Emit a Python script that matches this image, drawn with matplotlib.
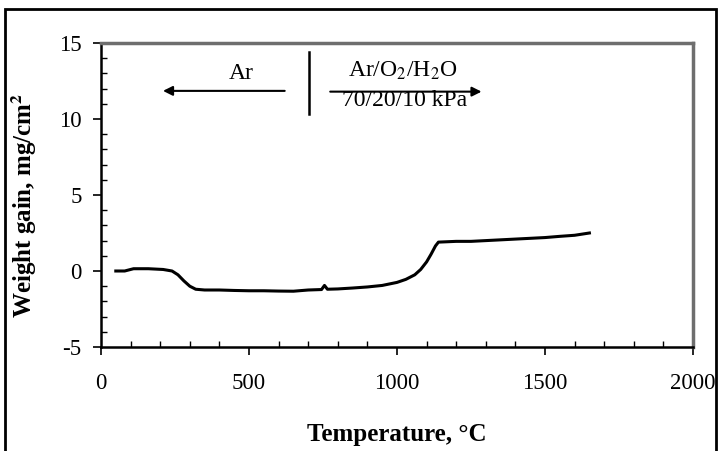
import numpy as np
import matplotlib
matplotlib.use("Agg")
import matplotlib.pyplot as plt
from matplotlib.ticker import MultipleLocator
from matplotlib.patches import Rectangle

plt.rcParams['font.family'] = ['Liberation Serif', 'DejaVu Serif']
plt.rcParams['mathtext.fontset'] = 'stix'
plt.rcParams['axes.unicode_minus'] = False

# ============================
# data
# ============================
temperature = [50, 80, 110, 160, 210, 240, 260, 280, 300, 320, 350, 400, 450, 500, 550,
               600, 650, 700, 745, 755, 765, 800, 850, 900, 950, 1000, 1030, 1060, 1080,
               1100, 1115, 1130, 1140, 1200, 1250, 1300, 1350, 1400, 1450, 1500, 1550,
               1600, 1650]
weight_gain = [0.0, 0.0, 0.15, 0.15, 0.1, 0.0, -0.25, -0.65, -1.0, -1.2, -1.25, -1.25,
               -1.28, -1.3, -1.3, -1.32, -1.33, -1.25, -1.22, -0.95, -1.2, -1.18, -1.12,
               -1.05, -0.95, -0.75, -0.55, -0.25, 0.1, 0.6, 1.1, 1.65, 1.9, 1.95, 1.95,
               2.0, 2.05, 2.1, 2.15, 2.2, 2.28, 2.35, 2.5]

x_ticks = [0, 500, 1000, 1500, 2000]
y_ticks = [-5, 0, 5, 10, 15]

fig = plt.figure(figsize=(7.18, 4.51), dpi=100)
ax = fig.add_axes([101 / 718, 1 - 347 / 451, 592 / 718, 304 / 451])

ax.plot(temperature, weight_gain, color='black', lw=2.2)

ax.set_xlim(0, 2000)
ax.set_ylim(-5, 15)
ax.set_xticks(x_ticks)
ax.set_yticks(y_ticks)
ax.xaxis.set_minor_locator(MultipleLocator(100))
ax.yaxis.set_minor_locator(MultipleLocator(1))
ax.tick_params(which='major', direction='out', length=6, width=1.2, labelsize=16.5)
ax.tick_params(axis='x', which='major', pad=13)
ax.tick_params(axis='y', which='major', pad=8)
ax.tick_params(which='minor', direction='in', length=4, width=1.0)

for side in ['left', 'bottom']:
    ax.spines[side].set_linewidth(1.8)
    ax.spines[side].set_color('black')
for side in ['top', 'right']:
    ax.spines[side].set_linewidth(2.5)
    ax.spines[side].set_color('#6e6e6e')

ax.set_xlabel('Temperature, °C', fontsize=18, fontweight='bold')
ax.set_ylabel('Weight gain, mg/cm$^\\mathbf{2}$', fontsize=18, fontweight='bold')
ax.xaxis.set_label_coords(0.5, -0.25)
ax.yaxis.set_label_coords(-0.105, 0.467)

# gas annotations
ax.plot([703, 703], [10.3, 14.4], color='black', lw=1.8)
ax.annotate('', xy=(200, 11.85), xytext=(630, 11.85),
            arrowprops=dict(arrowstyle='-|>', color='black', lw=1.5, mutation_scale=14))
ax.annotate('', xy=(1295, 11.8), xytext=(765, 11.8),
            arrowprops=dict(arrowstyle='-|>', color='black', lw=1.5, mutation_scale=14))
ax.text(475, 13.0, 'Ar', fontsize=17, ha='center', va='center')
ax.text(1021, 13.2, 'Ar/O$_2$/H$_2$O', fontsize=17, ha='center', va='center')
ax.text(1027, 11.25, '70/20/10 kPa', fontsize=17, ha='center', va='center')

# page frame around the scanned figure
fig.add_artist(Rectangle((5 / 718, -0.05), 711 / 718, 1.05 - 9 / 451,
                         transform=fig.transFigure, fill=False, ec='black', lw=2))

fig.savefig('out.png', dpi=100)
